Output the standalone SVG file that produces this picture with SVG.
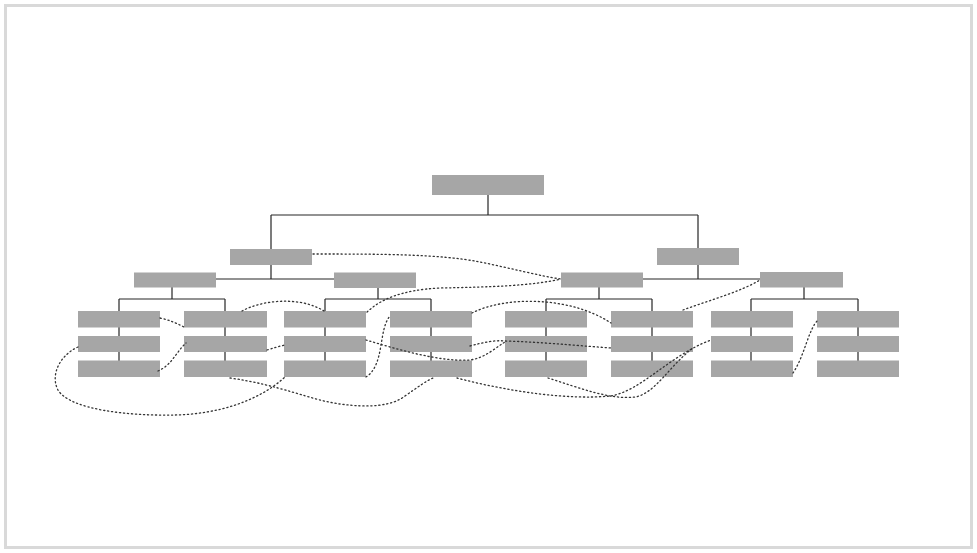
<svg xmlns="http://www.w3.org/2000/svg" width="977" height="553" viewBox="0 0 977 553">
<style>
.frame{fill:#ffffff;stroke:#d9d9d9;stroke-width:3}
.box{fill:#a6a6a6;stroke:none}
.tree{fill:none;stroke:#262626;stroke-width:1.2}
.dot{fill:none;stroke:#333333;stroke-width:1.3;stroke-dasharray:1.2 2.8;stroke-linecap:round}
</style>
<rect class="frame" x="5.5" y="5.5" width="966" height="542"/>
<g id="connectors">
<path class="tree" d="M488,195V215M271,215H698M271,215V249M698,215V248"/>
<path class="tree" d="M271,265V279M216,279H334M698,265V279M643,279H760"/>
<path class="tree" d="M172,287V299M119,299H225M119,299V361M225,299V361"/>
<path class="tree" d="M378,288V299M325,299H431M325,299V361M431,299V361"/>
<path class="tree" d="M599,287V299M546,299H652M546,299V361M652,299V361"/>
<path class="tree" d="M804,287V299M751,299H858M751,299V361M858,299V361"/>
</g>
<g id="root"><rect class="box" x="432" y="175" width="112" height="20"/></g>
<g id="n1a"><rect class="box" x="230" y="249" width="82" height="16"/></g>
<g id="n1b"><rect class="box" x="657" y="248" width="82" height="17"/></g>
<g id="n2a"><rect class="box" x="134" y="272.5" width="82" height="15"/></g>
<g id="n2b"><rect class="box" x="334" y="272.5" width="82" height="15.5"/></g>
<g id="n2c"><rect class="box" x="561" y="272.5" width="82" height="15"/></g>
<g id="n2d"><rect class="box" x="760" y="272" width="83" height="15.5"/></g>
<g id="c1r1"><rect class="box" x="78" y="311" width="82" height="16.5"/></g>
<g id="c1r2"><rect class="box" x="78" y="336" width="82" height="16"/></g>
<g id="c1r3"><rect class="box" x="78" y="360.5" width="82" height="16.5"/></g>
<g id="c2r1"><rect class="box" x="184" y="311" width="83" height="16.5"/></g>
<g id="c2r2"><rect class="box" x="184" y="336" width="83" height="16"/></g>
<g id="c2r3"><rect class="box" x="184" y="360.5" width="83" height="16.5"/></g>
<g id="c3r1"><rect class="box" x="284" y="311" width="82" height="16.5"/></g>
<g id="c3r2"><rect class="box" x="284" y="336" width="82" height="16"/></g>
<g id="c3r3"><rect class="box" x="284" y="360.5" width="82" height="16.5"/></g>
<g id="c4r1"><rect class="box" x="390" y="311" width="82" height="16.5"/></g>
<g id="c4r2"><rect class="box" x="390" y="336" width="82" height="16"/></g>
<g id="c4r3"><rect class="box" x="390" y="360.5" width="82" height="16.5"/></g>
<g id="c5r1"><rect class="box" x="505" y="311" width="82" height="16.5"/></g>
<g id="c5r2"><rect class="box" x="505" y="336" width="82" height="16"/></g>
<g id="c5r3"><rect class="box" x="505" y="360.5" width="82" height="16.5"/></g>
<g id="c6r1"><rect class="box" x="611" y="311" width="82" height="16.5"/></g>
<g id="c6r2"><rect class="box" x="611" y="336" width="82" height="16"/></g>
<g id="c6r3"><rect class="box" x="611" y="360.5" width="82" height="16.5"/></g>
<g id="c7r1"><rect class="box" x="711" y="311" width="82" height="16.5"/></g>
<g id="c7r2"><rect class="box" x="711" y="336" width="82" height="16"/></g>
<g id="c7r3"><rect class="box" x="711" y="360.5" width="82" height="16.5"/></g>
<g id="c8r1"><rect class="box" x="817" y="311" width="82" height="16.5"/></g>
<g id="c8r2"><rect class="box" x="817" y="336" width="82" height="16"/></g>
<g id="c8r3"><rect class="box" x="817" y="360.5" width="82" height="16.5"/></g>
<g id="cross-links">
<path class="dot" d="M313,254C380,254 440,254 480,262C510,268 540,276 561,279"/>
<path class="dot" d="M367,312C380,300 400,290 440,288C490,287 530,286 561,279"/>
<path class="dot" d="M160,318C170,320 178,324 186,328"/>
<path class="dot" d="M158,371C172,365 176,352 186,343"/>
<path class="dot" d="M78,347C60,355 50,375 58,390C70,410 130,416 175,415C220,414 260,400 285,377"/>
<path class="dot" d="M242,311C262,300 300,296 324,311"/>
<path class="dot" d="M267,350C274,348 280,346 285,345"/>
<path class="dot" d="M366,340C400,350 440,362 470,360C485,358 495,348 505,342"/>
<path class="dot" d="M470,346C485,342 495,340 505,341C540,342 570,345 611,348"/>
<path class="dot" d="M366,377C385,365 378,330 390,316"/>
<path class="dot" d="M230,378C280,385 310,400 340,404C370,408 392,406 405,396C418,387 426,381 433,378"/>
<path class="dot" d="M457,378C510,392 570,400 610,396C640,392 670,355 711,340"/>
<path class="dot" d="M548,378C580,388 610,400 635,397C655,394 670,365 693,348"/>
<path class="dot" d="M472,313C505,296 570,296 611,323"/>
<path class="dot" d="M683,310C710,300 740,292 760,280"/>
<path class="dot" d="M793,373C805,355 808,330 818,320"/>
</g>
</svg>
